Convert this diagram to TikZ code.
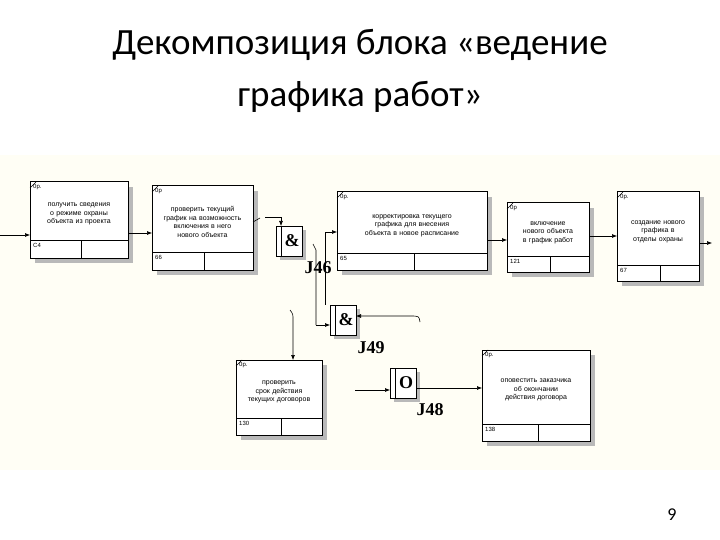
\documentclass[tikz,border=0pt]{standalone}
\usepackage{fontspec}
\setmainfont{Carlito}
\newfontfamily\boxf{Liberation Sans}
\newfontfamily\jf{Liberation Serif}
\usetikzlibrary{arrows.meta}
\begin{document}
\begin{tikzpicture}[x=1pt,y=-1pt,
 blk/.style={draw,line width=1pt,fill=white},
 shd/.style={fill=gray!55},
 txt/.style={font=\boxf\fontsize{7}{8.5}\selectfont,align=center,text width=#1},
 sm/.style={font=\boxf\fontsize{6}{7}\selectfont,anchor=north west,inner sep=1pt},
 ar/.style={-{Latex[length=5pt,width=4pt]},line width=0.6pt},
 ln/.style={line width=0.6pt},
 jl/.style={font=\jf\bfseries\fontsize{18}{18}\selectfont}]
\useasboundingbox (0,0) rectangle (720,540);
\fill[white] (0,0) rectangle (720,540);
\fill[yellow!4] (0,155) rectangle (720,470);
\node[font=\fontsize{37}{40}\selectfont] (t1) at (360,45) {Декомпозиция блока «ведение};
\node[font=\fontsize{37}{40}\selectfont] (t2) at (360,97) {графика работ»};
\node[font=\fontsize{18}{20}\selectfont] (pg) at (672,515) {9};
\foreach \xa/\ya/\xb/\yb/\ys/\tl/\bl/\tw/\tx in {
 30/182/128/258/240/0р./С4/78/{получить сведения о режиме охраны объекта из проекта},
 152/186/253/270/252/0р/66/88/{проверить текущий график на возможность включения в него нового объекта},
 337/192/487/270/253/0р./65/125/{корректировка текущего графика для внесения объекта в новое расписание},
 507/203/589/272/256/0р/121/66/{включение нового объекта в график работ},
 617/192/699/281/265/0р./67/66/{создание нового графика в отделы охраны},
 236/360/322/435/418/0р./130/68/{проверить срок действия текущих договоров},
 482/350/590/441/424/0р./138/72/{оповестить заказчика об окончании действия договора}}{
 \pgfmathsetmacro\xm{(\xa+\xb)/2}
 \pgfmathsetmacro\ym{(\ya+\ys)/2+3}
 \fill[shd] (\xa+5,\ya+5) rectangle (\xb+5,\yb+5);
 \draw[blk] (\xa,\ya) rectangle (\xb,\yb);
 \draw[line width=0.8pt] (\xa,\ys) -- (\xb,\ys) (\xm+2,\ys) -- (\xm+2,\yb);
 \draw[line width=0.4pt] (\xa,\ya+6) -- (\xa+6,\ya);
 \node[sm] at (\xa+2,\ya+1) {\tl};
 \node[sm] at (\xa+2,\ys+2) {\bl};
 \node[txt=\tw pt] at (\xm,\ym) {\tx};
}
\foreach \x/\y/\s/\n in {276/226/\&/j46, 330/305/\&/j49, 390/368/O/j48}{
 \fill[shd] (\x+4,\y+4) rectangle (\x+30,\y+34);
 \draw[fill=white,line width=0.8pt] (\x,\y) rectangle (\x+26,\y+30);
 \draw[line width=0.6pt] (\x+5,\y) -- (\x+5,\y+30);
 \node[jl] (\n) at (\x+16,\y+15) {\s};
}
\node[jl] (l46) at (318,268) {J46};
\node[jl] (l49) at (371,348) {J49};
\node[jl] (l48) at (430,410) {J48};
\draw[ar] (0,235) -- (30,235);
\draw[ar] (128,233) -- (152,233);
\draw[ar] (265,217) -- (281,217) -- (281,226);
\draw[ln] (253,222) -- (260,218);
\draw[ar] (325,280) -- (325,232) -- (337,232);
\draw[ln] (313,244) -- (316,250) -- (316,325);
\draw[ar] (316,325) -- (330,325);
\draw[ln] (325,280) -- (325,305);
\draw[ar] (420,322) .. controls (419,316) .. (410,316) -- (356,316);
\draw[ar] (290,310) .. controls (293,314) .. (293,320) -- (293,360);
\draw[ar] (487,240) -- (507,240);
\draw[ar] (589,236) -- (617,236);
\draw[ar] (699,243) -- (712,243);
\draw[ar] (355,390) -- (390,390);
\draw[ar] (416,388) -- (482,388);
\end{tikzpicture}
\end{document}
